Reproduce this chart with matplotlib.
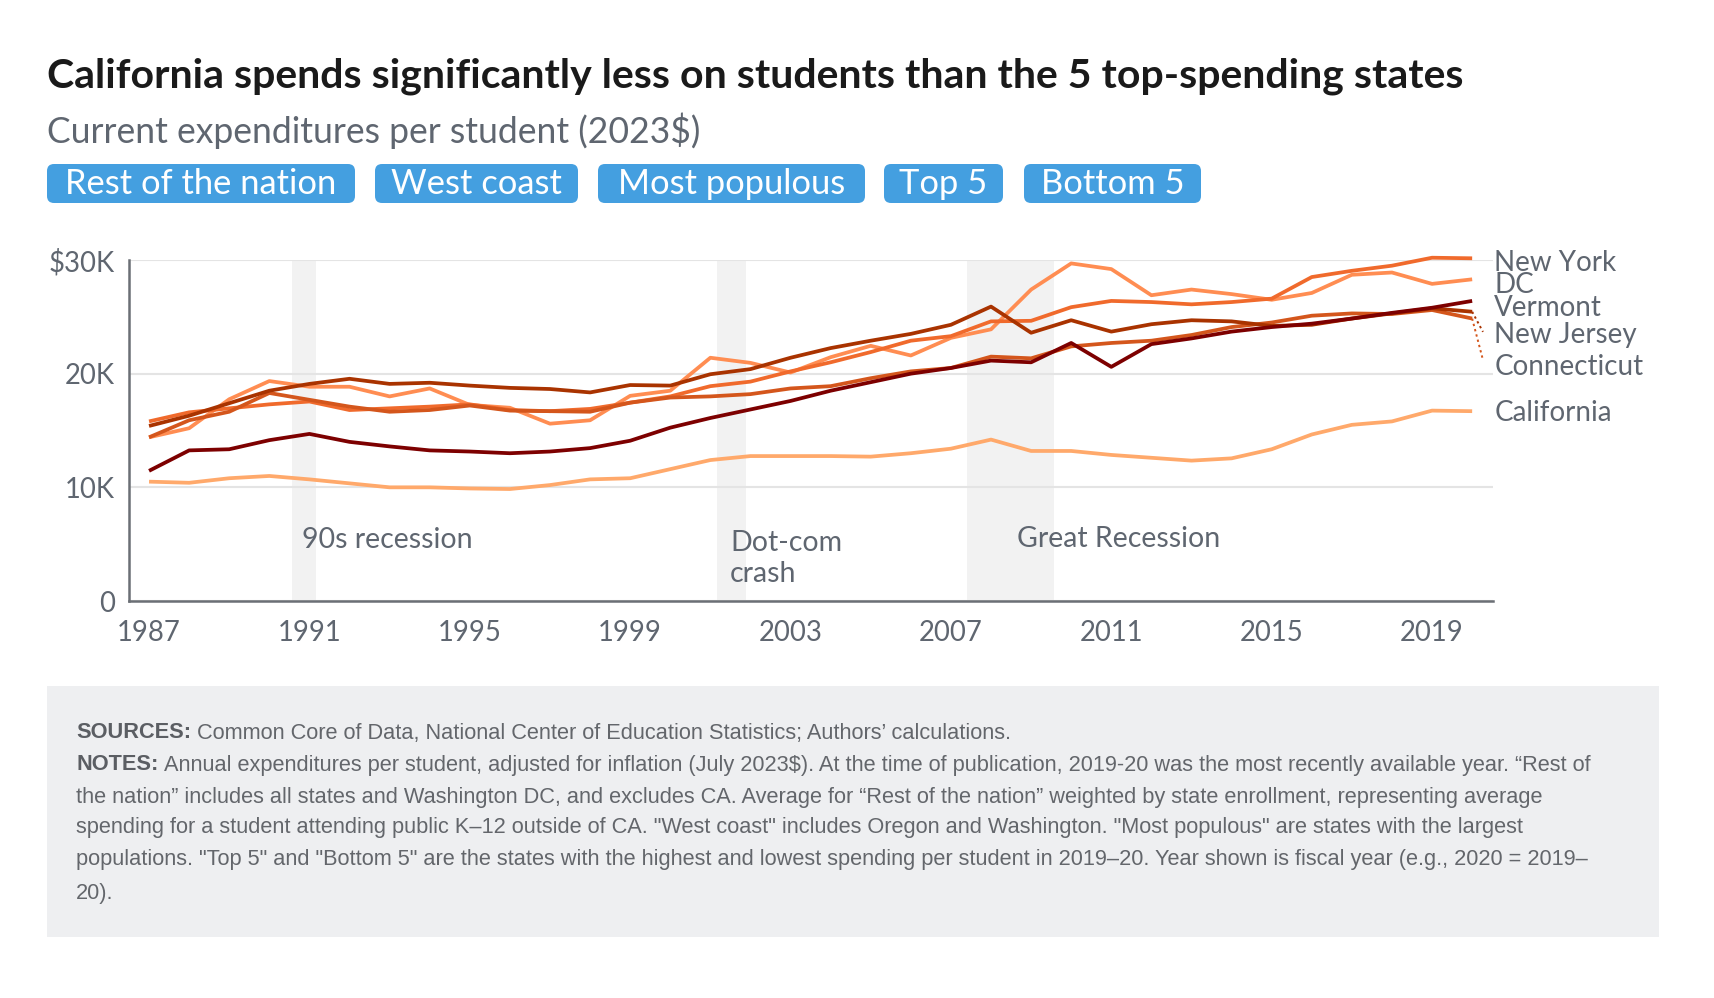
import matplotlib
matplotlib.use("Agg")
import matplotlib.pyplot as plt
from matplotlib.patches import FancyBboxPatch, Rectangle
from matplotlib.transforms import IdentityTransform

# ---------------- data (thousands of 2023 dollars per student) ----------------
years = list(range(1987, 2021))

california = [10.5, 10.4, 10.8, 11.0, 10.7, 10.35, 10.0, 10.0, 9.9, 9.85,
              10.2, 10.7, 10.8, 11.6, 12.4, 12.75, 12.75, 12.75, 12.7, 13.0,
              13.4, 14.2, 13.2, 13.2, 12.85, 12.6, 12.35, 12.55, 13.35, 14.65,
              15.5, 15.8, 16.75, 16.7]
dc = [14.4, 15.2, 17.75, 19.35, 18.85, 18.85, 18.0, 18.7, 17.25, 17.0,
      15.6, 15.9, 18.05, 18.5, 21.4, 20.95, 20.1, 21.45, 22.45, 21.6,
      23.15, 23.9, 27.4, 29.7, 29.2, 26.9, 27.4, 27.0, 26.5, 27.1,
      28.7, 28.9, 27.9, 28.3]
new_york = [15.8, 16.6, 16.95, 17.3, 17.55, 16.8, 16.95, 17.1, 17.3, 16.8,
            16.7, 16.9, 17.45, 18.0, 18.9, 19.3, 20.2, 21.0, 21.9, 22.9,
            23.3, 24.6, 24.65, 25.85, 26.4, 26.3, 26.1, 26.3, 26.6, 28.5,
            29.05, 29.5, 30.2, 30.15]
connecticut = [14.4, 15.9, 16.65, 18.3, 17.7, 17.1, 16.65, 16.8, 17.2, 16.75,
               16.7, 16.65, 17.45, 17.9, 18.0, 18.2, 18.7, 18.9, 19.6, 20.2,
               20.5, 21.5, 21.35, 22.4, 22.7, 22.9, 23.4, 24.1, 24.5, 25.1,
               25.3, 25.25, 25.6, 24.85]
new_jersey = [15.4, 16.3, 17.4, 18.5, 19.1, 19.55, 19.1, 19.2, 18.95, 18.75,
              18.65, 18.35, 19.0, 18.95, 19.95, 20.4, 21.4, 22.25, 22.9, 23.5,
              24.3, 25.9, 23.6, 24.7, 23.7, 24.35, 24.7, 24.6, 24.2, 24.3,
              24.85, 25.3, 25.75, 25.45]
vermont = [11.45, 13.25, 13.35, 14.15, 14.7, 14.0, 13.6, 13.25, 13.15, 13.0,
           13.15, 13.45, 14.1, 15.25, 16.1, 16.85, 17.6, 18.5, 19.25, 20.0,
           20.5, 21.15, 21.0, 22.7, 20.6, 22.6, 23.1, 23.7, 24.1, 24.4,
           24.85, 25.35, 25.8, 26.4]

series_names = ["California", "DC", "New York", "Connecticut", "New Jersey", "Vermont"]
series_values = [california, dc, new_york, connecticut, new_jersey, vermont]

recessions = [("90s recession", 1990.57, 1991.16),
              ("Dot-com\ncrash", 2001.17, 2001.88),
              ("Great Recession", 2007.41, 2009.57)]

ytick_values = [0, 10, 20, 30]
ytick_labels = ["0", "10K", "20K", "$30K"]
xtick_values = list(range(1987, 2020, 4))

buttons = ["Rest of the nation", "West coast", "Most populous", "Top 5", "Bottom 5"]

title = "California spends significantly less on students than the 5 top-spending states"
subtitle = "Current expenditures per student (2023$)"

note_lines = [
    [("SOURCES:", "bold"), ("Common Core of Data, National Center of Education Statistics; Authors\u2019 calculations.", "normal")],
    [("NOTES:", "bold"), ("Annual expenditures per student, adjusted for inflation (July 2023$). At the time of publication, 2019-20 was the most recently available year. \u201cRest of", "normal")],
    [("the nation\u201d includes all states and Washington DC, and excludes CA. Average for \u201cRest of the nation\u201d weighted by state enrollment, representing average", "normal")],
    [("spending for a student attending public K\u201312 outside of CA. \"West coast\" includes Oregon and Washington. \"Most populous\" are states with the largest", "normal")],
    [("populations. \"Top 5\" and \"Bottom 5\" are the states with the highest and lowest spending per student in 2019\u201320. Year shown is fiscal year (e.g., 2020 = 2019\u2013", "normal")],
    [("20).", "normal")],
]

# ---------------- styles / layout ----------------
colors = {"California": "#FFA96B", "DC": "#FF8D52", "New York": "#F06A2C",
          "Connecticut": "#D4561C", "New Jersey": "#A93300", "Vermont": "#7D0000"}
label_y = {"New York": 29.73, "DC": 27.8, "Vermont": 25.77, "New Jersey": 23.4,
           "Connecticut": 20.58, "California": 16.53}
leader_offset = {"New Jersey": 0.28, "Connecticut": 0.62}

W, H = 1714, 998
GRAY = "#5F6670"
SANS = ["Lato", "DejaVu Sans"]
NOTE_FONT = ["Liberation Sans", "DejaVu Sans"]

fig = plt.figure(figsize=(W / 100, H / 100), dpi=100)
fig.patch.set_facecolor("white")
renderer = fig.canvas.get_renderer()


def fx(px):
    return px / W


def fy(py):
    return 1 - py / H


def width_of(t):
    return t.get_window_extent(renderer=renderer).width


def fit(t, target):
    t.set_fontsize(t.get_fontsize() * target / width_of(t))
    return t


# title & subtitle
t = fig.text(fx(47), fy(76), title, fontsize=22, weight="bold", family=SANS,
             color="#1A1A1A", va="center", ha="left")
fit(t, 1412)
t = fig.text(fx(47), fy(131), subtitle, fontsize=20, family=SANS,
             color=GRAY, va="center", ha="left")
fit(t, 656)

# buttons
btn_x = [(47, 355), (375, 578), (598, 865), (884, 1003), (1024, 1201)]
btn_y0, btn_y1 = 164, 203
btn_size = None
for (x0, x1), lab in zip(btn_x, buttons):
    p = FancyBboxPatch((x0, H - btn_y1), x1 - x0, btn_y1 - btn_y0,
                       boxstyle="round,pad=0,rounding_size=7",
                       transform=IdentityTransform(), facecolor="#449FE0",
                       edgecolor="none")
    fig.add_artist(p)
    tt = fig.text(fx((x0 + x1) / 2), fy((btn_y0 + btn_y1) / 2 + 1), lab,
                  fontsize=20, family=SANS, color="white", va="center", ha="center")
    if btn_size is None:
        fit(tt, 272)
        btn_size = tt.get_fontsize()
    else:
        tt.set_fontsize(btn_size)

# notes box
fig.add_artist(Rectangle((47, H - 937), 1659 - 47, 937 - 686,
                         transform=IdentityTransform(), facecolor="#EEEFF1",
                         edgecolor="none", zorder=0))


def draw_line(x, y, segs, size):
    arts = []
    cx = x
    for i, (txt, weight) in enumerate(segs):
        col = "#5B5E63" if weight == "bold" else "#63666B"
        a = fig.text(fx(cx), fy(y), txt, fontsize=size, weight=weight,
                     family=NOTE_FONT, color=col, va="center", ha="left")
        arts.append(a)
        cx += width_of(a) + 0.278 * size * 100 / 72
    return arts, cx - x


arts, w = draw_line(76, 733, note_lines[1], 14)
for a in arts:
    a.remove()
note_size = 14 * 1535 / w
line_ys = [733, 765, 797, 828, 860, 893]
for segs, ly in zip(note_lines, line_ys):
    draw_line(76, ly, segs, note_size)

# ---------------- axes ----------------
ax = fig.add_axes([fx(129), fy(601), (1493 - 129) / W, (601 - 260) / H])
ax.set_xlim(1986.5, 2020.52)
ax.set_ylim(0, 30)

for lab, a0, a1 in recessions:
    ax.axvspan(a0, a1, color="#F2F2F2", zorder=0, lw=0)

ax.set_yticks(ytick_values)
ax.set_yticklabels(ytick_labels)
ax.set_xticks(xtick_values)
ax.grid(axis="y", color="#E4E4E4", lw=1.5, zorder=0.5)
ax.set_axisbelow(True)
for s in ["top", "right"]:
    ax.spines[s].set_visible(False)
for s in ["left", "bottom"]:
    ax.spines[s].set_color("#6B6F75")
    ax.spines[s].set_linewidth(1.8)
    ax.spines[s].set_zorder(5)
ax.tick_params(axis="both", length=0, labelsize=19.8, labelcolor=GRAY)
ax.tick_params(axis="y", pad=10)
ax.tick_params(axis="x", pad=14)
for lbl in ax.get_xticklabels() + ax.get_yticklabels():
    lbl.set_family(SANS)

for name, vals in zip(series_names, series_values):
    ax.plot(years, vals, color=colors[name], lw=2.7, clip_on=False, zorder=3,
            solid_capstyle="butt", solid_joinstyle="round")

# recession labels
rec_text_pos = [(1990.82, 5.37), (2001.49, 3.75), (2008.64, 5.45)]
for (lab, a0, a1), (tx, ty) in zip(recessions, rec_text_pos):
    ax.text(tx, ty, lab, fontsize=20.5, family=SANS, color=GRAY, va="center",
            ha="left", linespacing=1.22, zorder=4)

# end labels + leaders
x_lab = 2020.55
for name, vals in zip(series_names, series_values):
    ax.text(x_lab, label_y[name], name, fontsize=20, family=SANS, color=GRAY,
            va="center", ha="left", clip_on=False)
    if name in leader_offset:
        ax.plot([years[-1], 2020.27], [vals[-1], label_y[name] + leader_offset[name]],
                color=colors[name], lw=1.4, ls=(0, (1.2, 1.6)), clip_on=False, zorder=3)

fig.savefig("out.png", dpi=100, facecolor="white")
